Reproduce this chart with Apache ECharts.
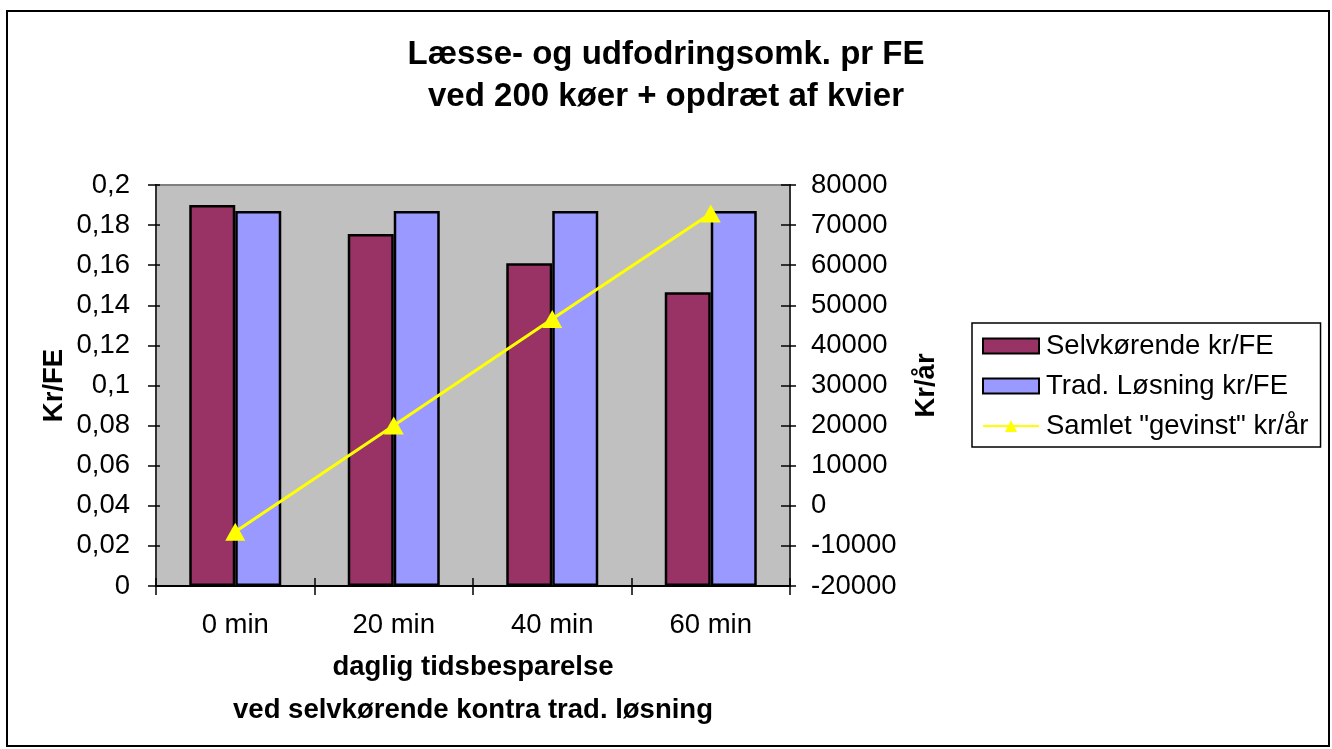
<!DOCTYPE html>
<html>
<head>
<meta charset="utf-8">
<script src="https://cdn.jsdelivr.net/npm/echarts@6/dist/echarts.min.js"></script>
<style>
  html, body { margin: 0; padding: 0; background: #ffffff; }
  #chart { width: 1332px; height: 749px; }
</style>
</head>
<body>
<div id="chart"></div>
<script>
const categories = ['0 min', '20 min', '40 min', '60 min'];
const selvkorende = [0.190, 0.1755, 0.161, 0.1465];
const tradLosning = [0.187, 0.187, 0.187, 0.187];
const samletGevinst = [-6500, 20000, 46600, 72900];

const seriesNames = ['Selvkørende kr/FE', 'Trad. Løsning kr/FE', 'Samlet "gevinst" kr/år'];
const titleText = 'Læsse- og udfodringsomk. pr FE\nved 200 køer + opdræt af kvier';
const xAxisTitle = 'daglig tidsbesparelse\nved selvkørende kontra trad. løsning';
const leftAxisTitle = 'Kr/FE';
const rightAxisTitle = 'Kr/år';

const FONT = "'Liberation Sans', Arial, sans-serif";
const chart = echarts.init(document.getElementById('chart'), null, { renderer: 'canvas' });

const leftFmt = v => parseFloat(v.toFixed(2)).toString().replace('.', ',');
const rightFmt = v => String(Math.round(v));

const option = {
  backgroundColor: '#ffffff',
  animation: false,
  textStyle: { fontFamily: FONT },
  graphic: [{
    type: 'rect',
    shape: { x: 7, y: 11, width: 1322, height: 735 },
    style: { fill: 'none', stroke: '#000000', lineWidth: 2 },
    silent: true,
    z: -10
  }],
  title: {
    text: titleText,
    left: 'center',
    top: 34,
    padding: 0,
    textStyle: { fontFamily: FONT, fontSize: 33, fontWeight: 'bold', color: '#000', lineHeight: 42 }
  },
  legend: {
    orient: 'vertical',
    left: 972,
    top: 323,
    padding: [9, 12, 7, 10],
    itemGap: 12,
    itemWidth: 56,
    itemHeight: 15,
    selectedMode: false,
    borderColor: '#000000',
    borderWidth: 1.5,
    backgroundColor: '#ffffff',
    textStyle: { fontFamily: FONT, fontSize: 27.5, color: '#000', padding: [0, 0, 0, 2] },
    data: [
      { name: seriesNames[0], icon: 'rect' },
      { name: seriesNames[1], icon: 'rect' },
      { name: seriesNames[2] }
    ]
  },
  grid: {
    left: 156, right: 542, top: 185, bottom: 163,
    show: true,
    backgroundColor: '#c0c0c0',
    borderColor: '#808080',
    borderWidth: 2
  },
  xAxis: [{
    type: 'category',
    data: categories,
    boundaryGap: true,
    position: 'bottom',
    axisLine: { show: true, onZero: false, lineStyle: { color: '#000', width: 2 } },
    axisTick: { show: true, inside: false, length: 9, lineStyle: { color: '#000', width: 1.5 } },
    axisLabel: { margin: 25, fontFamily: FONT, fontSize: 27.5, color: '#000' },
    name: xAxisTitle,
    nameLocation: 'middle',
    nameGap: 60,
    nameTextStyle: { fontFamily: FONT, fontSize: 27.5, fontWeight: 'bold', color: '#000', lineHeight: 43 }
  }, {
    type: 'category',
    data: categories,
    boundaryGap: true,
    position: 'bottom',
    axisLine: { show: false, onZero: false },
    axisTick: { show: true, inside: true, length: 8, lineStyle: { color: '#000', width: 1.5 } },
    axisLabel: { show: false }
  }],
  yAxis: [{
    type: 'value',
    position: 'left',
    min: 0, max: 0.2, interval: 0.02,
    axisLine: { show: true, lineStyle: { color: '#333', width: 2 } },
    axisTick: { show: true, inside: false, length: 8, lineStyle: { color: '#000', width: 1.5 } },
    axisLabel: { margin: 26, fontFamily: FONT, fontSize: 27.5, color: '#000', formatter: leftFmt },
    splitLine: { show: false },
    name: leftAxisTitle,
    nameLocation: 'middle',
    nameGap: 88,
    nameRotate: 90,
    nameTextStyle: { fontFamily: FONT, fontSize: 27.5, fontWeight: 'bold', color: '#000' }
  }, {
    type: 'value',
    position: 'right',
    min: -20000, max: 80000, interval: 10000,
    axisLine: { show: true, lineStyle: { color: '#333', width: 2 } },
    axisTick: { show: true, inside: false, length: 6, lineStyle: { color: '#000', width: 1.5 } },
    axisLabel: { margin: 21, fontFamily: FONT, fontSize: 27.5, color: '#000', formatter: rightFmt },
    splitLine: { show: false },
    name: rightAxisTitle,
    nameLocation: 'middle',
    nameGap: 122,
    nameRotate: 90,
    nameTextStyle: { fontFamily: FONT, fontSize: 27.5, fontWeight: 'bold', color: '#000' }
  }, {
    type: 'value',
    position: 'left',
    min: 0, max: 0.2, interval: 0.02,
    axisLine: { show: false },
    axisTick: { show: true, inside: true, length: 4, lineStyle: { color: '#000', width: 1.5 } },
    axisLabel: { show: false },
    splitLine: { show: false }
  }, {
    type: 'value',
    position: 'right',
    min: -20000, max: 80000, interval: 10000,
    axisLine: { show: false },
    axisTick: { show: true, inside: true, length: 9, lineStyle: { color: '#000', width: 1.5 } },
    axisLabel: { show: false },
    splitLine: { show: false }
  }],
  series: [{
    name: seriesNames[0],
    type: 'bar',
    xAxisIndex: 0,
    yAxisIndex: 0,
    data: selvkorende,
    barWidth: 46,
    barGap: '0%',
    itemStyle: { color: '#993366', borderColor: '#000', borderWidth: 2.5 }
  }, {
    name: seriesNames[1],
    type: 'bar',
    xAxisIndex: 0,
    yAxisIndex: 0,
    data: tradLosning,
    barWidth: 46,
    barGap: '0%',
    itemStyle: { color: '#9999ff', borderColor: '#000', borderWidth: 2.5 }
  }, {
    name: seriesNames[2],
    type: 'line',
    xAxisIndex: 0,
    yAxisIndex: 1,
    data: samletGevinst,
    symbol: 'triangle',
    symbolSize: [20, 18],
    showAllSymbol: true,
    lineStyle: { color: '#ffff00', width: 3 },
    itemStyle: { color: '#ffff00', borderWidth: 0 },
    z: 5
  }]
};

chart.setOption(option);
</script>
</body>
</html>
